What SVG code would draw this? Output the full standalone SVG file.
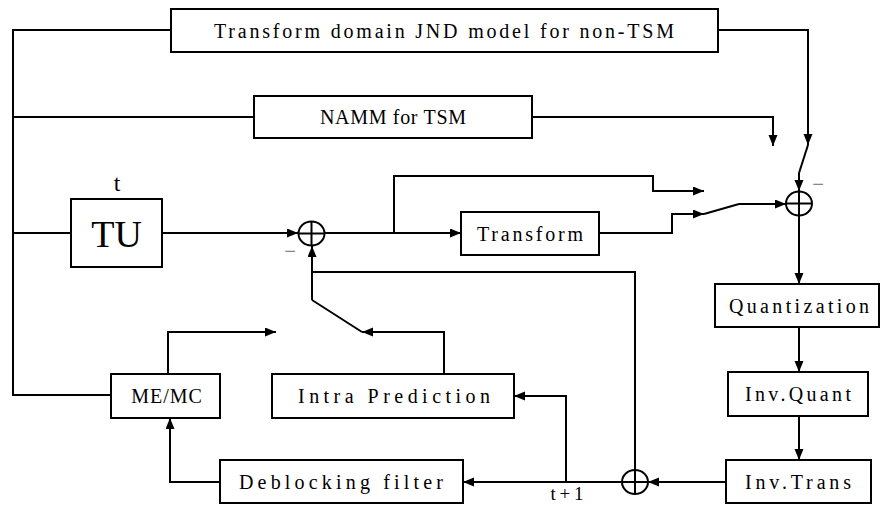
<svg xmlns="http://www.w3.org/2000/svg" width="883" height="505" viewBox="0 0 883 505">
<defs>
<marker id="ah" markerUnits="userSpaceOnUse" markerWidth="12" markerHeight="10" refX="11" refY="4.5" orient="auto">
<path d="M0,0 L11,4.5 L0,9 z" fill="#000"/>
</marker>
<style>
.box{fill:#fff;stroke:#000;stroke-width:2}
.ln{fill:none;stroke:#000;stroke-width:2}
.ar{fill:none;stroke:#000;stroke-width:2;marker-end:url(#ah)}
.lbl{font-family:"Liberation Serif",serif;font-size:20px;text-anchor:middle;dominant-baseline:central;fill:#000}
.sg{font-family:"Liberation Sans",sans-serif;font-size:20px;fill:#888;text-anchor:middle}
</style>
</defs>
<rect width="883" height="505" fill="#fff"/>
<g id="connectors">
<path class="ln" d="M171,30 H13 V395 H111"/>
<path class="ln" d="M13,117 H254"/>
<path class="ln" d="M13,233 H71"/>
<path class="ar" d="M718,30 H808 V145"/>
<path class="ln" d="M808,145 L799,173"/>
<path class="ar" d="M799,173 V191"/>
<path class="ar" d="M532,117 H773 V146"/>
<path class="ar" d="M162,233 H298"/>
<path class="ln" d="M324,233 H394"/>
<path class="ar" d="M394,233 H461"/>
<path class="ar" d="M394,233 V176 H653 V191 H704"/>
<path class="ar" d="M599,233 H672 V214 H704"/>
<path class="ln" d="M704,214 L739,204"/>
<path class="ar" d="M739,204 H786"/>
<path class="ar" d="M799,216 V284"/>
<path class="ar" d="M799,328 V372"/>
<path class="ar" d="M799,416 V460"/>
<path class="ar" d="M726,482 H648"/>
<path class="ar" d="M622,482 H463"/>
<path class="ar" d="M566,482 V396 H514"/>
<path class="ln" d="M635,469 V272 H312"/>
<path class="ar" d="M312,300 V246"/>
<path class="ln" d="M312,300 L362,332"/>
<path class="ar" d="M444,374 V332 H362"/>
<path class="ar" d="M168,374 V332 H276"/>
<path class="ar" d="M220,482 H170 V418"/>
</g>
<g id="sum1"><ellipse class="ln" cx="311.5" cy="233.5" rx="13" ry="12"/><path class="ln" d="M298.5,233.5 H324.5 M311.5,221.5 V245.5"/></g>
<g id="sum2"><ellipse class="ln" cx="799" cy="203.5" rx="13" ry="12"/><path class="ln" d="M786,203.5 H812 M799,191.5 V215.5"/></g>
<g id="sum3"><ellipse class="ln" cx="635" cy="482" rx="13" ry="12"/><path class="ln" d="M622,482 H648 M635,470 V494"/></g>
<g id="jnd"><rect class="box" x="171" y="9" width="547" height="43"/><text class="lbl" x="444" y="31" textLength="460" lengthAdjust="spacing">Transform domain JND model for non-TSM</text></g>
<g id="namm"><rect class="box" x="254" y="96" width="278" height="42"/><text class="lbl" x="393" y="117" textLength="146" lengthAdjust="spacing">NAMM for TSM</text></g>
<g id="tu"><rect class="box" x="71" y="199" width="91" height="68"/><text x="116.5" y="247" font-family="Liberation Serif,serif" font-size="38" text-anchor="middle">TU</text><text x="117" y="191" font-family="Liberation Serif,serif" font-size="24" text-anchor="middle">t</text></g>
<g id="transform"><rect class="box" x="461" y="212" width="138" height="43"/><text class="lbl" x="530" y="234" textLength="106" lengthAdjust="spacing">Transform</text></g>
<g id="quant"><rect class="box" x="715" y="284" width="164" height="43"/><text class="lbl" x="799" y="306" textLength="140" lengthAdjust="spacing">Quantization</text></g>
<g id="invquant"><rect class="box" x="728" y="372" width="140" height="44"/><text class="lbl" x="798" y="394" textLength="106" lengthAdjust="spacing">Inv.Quant</text></g>
<g id="invtrans"><rect class="box" x="726" y="460" width="145" height="43"/><text class="lbl" x="798" y="482" textLength="106" lengthAdjust="spacing">Inv.Trans</text></g>
<g id="memc"><rect class="box" x="111" y="374" width="109" height="44"/><text class="lbl" x="167" y="396" font-size="18" letter-spacing="1">ME/MC</text></g>
<g id="intra"><rect class="box" x="272" y="374" width="242" height="44"/><text class="lbl" x="394" y="396" textLength="192" lengthAdjust="spacing">Intra Prediction</text></g>
<g id="deblock"><rect class="box" x="220" y="460" width="243" height="43"/><text class="lbl" x="341" y="482" textLength="204" lengthAdjust="spacing">Deblocking filter</text></g>
<g id="labels">
<text class="sg" x="290" y="258">−</text>
<text class="sg" x="818" y="191">−</text>
<text x="567" y="500" font-family="Liberation Serif,serif" font-size="19" text-anchor="middle" textLength="33" lengthAdjust="spacing">t+1</text>
</g>
</svg>
